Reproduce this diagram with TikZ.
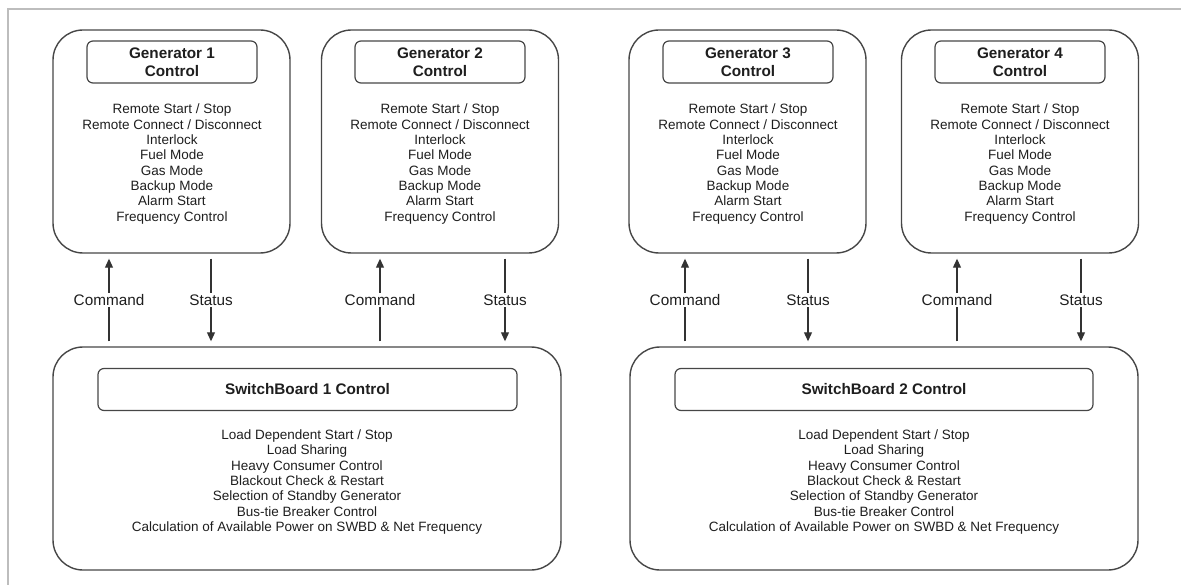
\documentclass[tikz,border=0pt]{standalone}
\usepackage{fontspec}
\setmainfont{Liberation Sans}
\usepackage{tikz}
\usetikzlibrary{arrows.meta}

\definecolor{linegray}{HTML}{464646}
\definecolor{framegray}{HTML}{BDBDBD}
\definecolor{textgray}{HTML}{1E1E1E}

\newcommand{\genfuncs}{Remote Start / Stop\\Remote Connect / Disconnect\\Interlock\\Fuel Mode\\Gas Mode\\Backup Mode\\Alarm Start\\Frequency Control}
\newcommand{\sbfuncs}{Load Dependent Start / Stop\\Load Sharing\\Heavy Consumer Control\\Blackout Check \& Restart\\Selection of Standby Generator\\Bus-tie Breaker Control\\Calculation of Available Power on SWBD \& Net Frequency}

\begin{document}
\begin{tikzpicture}[x = 1pt, y = -1pt,
  outerbox/.style = {draw = linegray, line width = 1.4pt, rounded corners = 30pt,
    minimum width = 237pt, minimum height = 223pt, inner sep = 0pt},
  titlebox/.style = {draw = linegray, line width = 1.2pt, rounded corners = 6pt,
    minimum height = 42pt, inner sep = 0pt, align = center, text = textgray,
    font = \fontsize{15.3}{17.6}\selectfont\bfseries},
  funcs/.style = {align = center, inner sep = 0pt, text = textgray,
    font = \fontsize{13.5}{15.3}\selectfont},
  flow/.style = {draw = black!80, line width = 1.1pt,
    -{Triangle[length = 9pt, width = 8pt]},
    shorten > = 5pt, shorten < = 5pt},
  flowlabel/.style = {fill = white, inner sep = 1.5pt, text = textgray,
    font = \fontsize{15.3}{17}\selectfont}]
\useasboundingbox (0,0) rectangle (1181,585);
\draw [framegray, line width = 1.5pt] (8,585) -- (8,9) -- (1181,9);

% generator controls
\node [outerbox] (gen1) at (171.5,141.5) {};
\node [titlebox, minimum width = 170pt] (gen1title) at (172,62) {Generator 1\\Control};
\node [funcs] (gen1funcs) at (172,164) {\genfuncs};

\node [outerbox] (gen2) at (440,141.5) {};
\node [titlebox, minimum width = 170pt] (gen2title) at (440,62) {Generator 2\\Control};
\node [funcs] (gen2funcs) at (440,164) {\genfuncs};

\node [outerbox] (gen3) at (747.5,141.5) {};
\node [titlebox, minimum width = 170pt] (gen3title) at (748,62) {Generator 3\\Control};
\node [funcs] (gen3funcs) at (748,164) {\genfuncs};

\node [outerbox] (gen4) at (1020,141.5) {};
\node [titlebox, minimum width = 170pt] (gen4title) at (1020,62) {Generator 4\\Control};
\node [funcs] (gen4funcs) at (1020,164) {\genfuncs};

% switchboard controls
\node [outerbox, minimum width = 508pt] (sb1) at (307,458.5) {};
\node [titlebox, minimum width = 419pt] (sb1title) at (307.5,389.5) {SwitchBoard 1 Control};
\node [funcs] (sb1funcs) at (307,482) {\sbfuncs};

\node [outerbox, minimum width = 508pt] (sb2) at (884,458.5) {};
\node [titlebox, minimum width = 418pt] (sb2title) at (884,389.5) {SwitchBoard 2 Control};
\node [funcs] (sb2funcs) at (884,482) {\sbfuncs};

% command / status lines
\coordinate (gen1cmd) at (109,0);
\coordinate (gen1st) at (211,0);
\coordinate (gen2cmd) at (380,0);
\coordinate (gen2st) at (505,0);
\coordinate (gen3cmd) at (685,0);
\coordinate (gen3st) at (808,0);
\coordinate (gen4cmd) at (957,0);
\coordinate (gen4st) at (1081,0);

\draw [flow] (gen1cmd |- sb1.north) -- node [flowlabel] {Command} (gen1cmd |- gen1.south);
\draw [flow] (gen1st |- gen1.south) -- node [flowlabel] {Status} (gen1st |- sb1.north);
\draw [flow] (gen2cmd |- sb1.north) -- node [flowlabel] {Command} (gen2cmd |- gen2.south);
\draw [flow] (gen2st |- gen2.south) -- node [flowlabel] {Status} (gen2st |- sb1.north);
\draw [flow] (gen3cmd |- sb2.north) -- node [flowlabel] {Command} (gen3cmd |- gen3.south);
\draw [flow] (gen3st |- gen3.south) -- node [flowlabel] {Status} (gen3st |- sb2.north);
\draw [flow] (gen4cmd |- sb2.north) -- node [flowlabel] {Command} (gen4cmd |- gen4.south);
\draw [flow] (gen4st |- gen4.south) -- node [flowlabel] {Status} (gen4st |- sb2.north);
\end{tikzpicture}
\end{document}
